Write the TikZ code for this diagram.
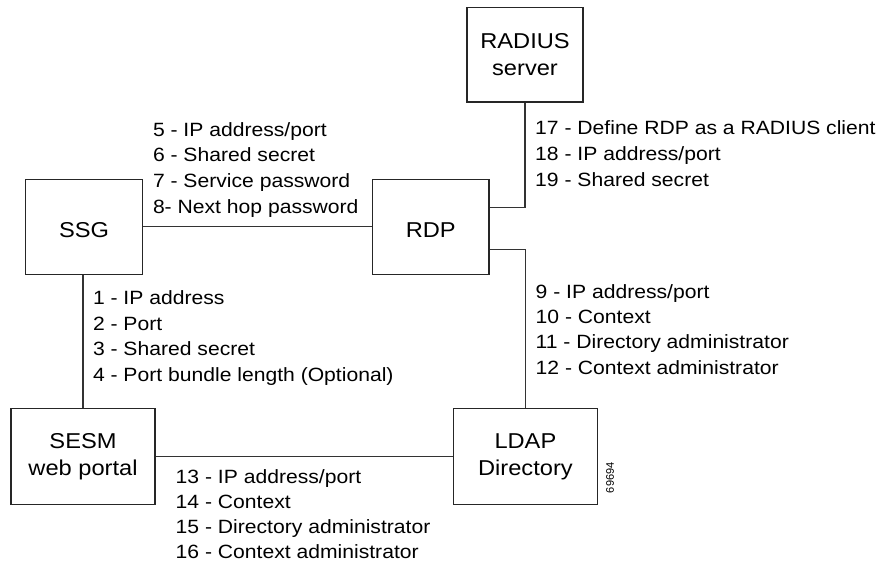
\documentclass[tikz,border=0pt]{standalone}
\usepackage{fontspec}
\setmainfont{Liberation Sans}[FakeStretch=1.1]
\newfontfamily\dgPlainFont{Liberation Sans}
\newcommand\dgBoxFont{\fontsize{21.5}{27}\selectfont}
\newcommand\dgLblFont{\fontsize{19.2}{25.5}\selectfont}
\begin{document}
\begin{tikzpicture}[x=1pt,y=-1pt,
  box/.style={draw=black!85, line width=1.2pt, inner sep=0pt, align=center, font=\dgBoxFont},
  lowtext/.style={text height=22pt, text depth=0pt},
  conn/.style={draw=black!80, line width=1.2pt},
  lbl/.style={anchor=base west, inner sep=0pt, font=\dgLblFont}]
\useasboundingbox (0,0) rectangle (880,562);

% boxes
\node[box, minimum width=116pt, minimum height=94.7pt] (radius) at (525,54.7) {RADIUS\\server};
\node[box, lowtext, minimum width=116.8pt, minimum height=95pt] (ssg) at (84.1,226.8) {SSG};
\node[box, lowtext, minimum width=116.5pt, minimum height=95pt] (rdp) at (430.75,226.8) {RDP};
\node[box, minimum width=144pt, minimum height=95.6pt] (sesm) at (83,456.5) {SESM\\web portal};
\node[box, minimum width=143.7pt, minimum height=95.6pt] (ldap) at (525.4,456.5) {LDAP\\Directory};

% connectors
\draw[conn] (ssg.east) -- (ssg.east -| rdp.west);
\draw[conn] (sesm.north |- ssg.south) -- (sesm.north);
\draw[conn] (sesm.east) -- (sesm.east -| ldap.west);
\draw[conn] (radius.south) |- ([yshift=19.6pt]rdp.east);
\draw[conn] ([yshift=-22.4pt]rdp.east) -| (ldap.north);

% labels
\node[lbl, font=\fontsize{19.2}{25.8}\selectfont] (lab58) at (152.8,136)
  {\begin{tabular}[t]{@{}l@{}}5 - IP address/port\\6 - Shared secret\\7 - Service password\\8- Next hop password\end{tabular}};
\node[lbl, font=\fontsize{19.2}{26.3}\selectfont] (lab1719) at (535,134)
  {\begin{tabular}[t]{@{}l@{}}17 - Define RDP as a RADIUS client\\18 - IP address/port\\19 - Shared secret\end{tabular}};
\node[lbl, font=\fontsize{19.2}{25.5}\selectfont] (lab14) at (92.8,304.5)
  {\begin{tabular}[t]{@{}l@{}}1 - IP address\\2 - Port\\3 - Shared secret\\4 - Port bundle length (Optional)\end{tabular}};
\node[lbl, font=\fontsize{19.2}{25.2}\selectfont] (lab912) at (535.5,298.5)
  {\begin{tabular}[t]{@{}l@{}}9 - IP address/port\\10 - Context\\11 - Directory administrator\\12 - Context administrator\end{tabular}};
\node[lbl, font=\fontsize{19.2}{25}\selectfont] (lab1316) at (175.5,483.3)
  {\begin{tabular}[t]{@{}l@{}}13 - IP address/port\\14 - Context\\15 - Directory administrator\\16 - Context administrator\end{tabular}};

\node[rotate=90, inner sep=0pt, font=\dgPlainFont\fontsize{11}{13}\selectfont] (fignum) at (610,477.7) {69694};
\end{tikzpicture}
\end{document}
